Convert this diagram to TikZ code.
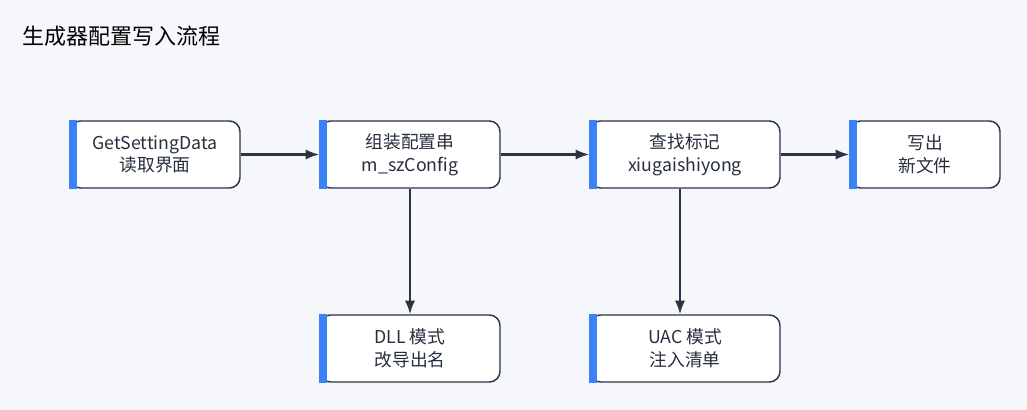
\documentclass[tikz,border=0pt]{standalone}
\usepackage{fontspec}
\setmainfont{Noto Sans}
\newfontfamily\cjk{Noto Sans CJK SC}
\usetikzlibrary{arrows.meta}
\definecolor{bgc}{HTML}{F5F7FB}
\definecolor{edgec}{HTML}{2B3445}
\definecolor{accent}{HTML}{3B82F6}
\tikzset{
  >=Latex,
  box/.style={draw=edgec,line width=1.1pt,fill=white,rounded corners=8pt,
    minimum height=67*0.75pt,align=center,font=\cjk\fontsize{13.3}{17}\selectfont,
    text=edgec!90!black},
  flow/.style={->,line width=1.6pt,edgec},
}
\begin{document}
\begin{tikzpicture}[x=0.75pt,y=-0.75pt]
  \fill[bgc] (0,0) rectangle (1027,410);
  \node[anchor=west,font=\cjk\fontsize{16.5}{19}\selectfont,text=black] (title) at (18,36) {生成器配置写入流程};
  \node[box,minimum width=170*0.75pt] (get) at (155,154.5) {GetSettingData\\读取界面};
  \node[box,minimum width=180*0.75pt] (cfg) at (410,154.5) {组装配置串\\m\_szConfig};
  \node[box,minimum width=190*0.75pt] (mark) at (685,154.5) {查找标记\\xiugaishiyong};
  \node[box,minimum width=150*0.75pt] (out) at (925,154.5) {写出\\新文件};
  \node[box,minimum width=180*0.75pt] (dll) at (410,348.5) {DLL 模式\\改导出名};
  \node[box,minimum width=190*0.75pt] (uac) at (685,348.5) {UAC 模式\\注入清单};
  % left accent bars
  \foreach \n in {get,cfg,mark,out,dll,uac}
    \fill[accent] (\n.north west) rectangle ([xshift=5.5pt]\n.south west);
  \draw[flow] (get) -- (cfg);
  \draw[flow] (cfg) -- (mark);
  \draw[flow] (mark) -- (out);
  \draw[flow] (cfg) -- (dll);
  \draw[flow] ([xshift=-3.75pt]mark.south) -- ([xshift=-3.75pt]uac.north);
\end{tikzpicture}
\end{document}
